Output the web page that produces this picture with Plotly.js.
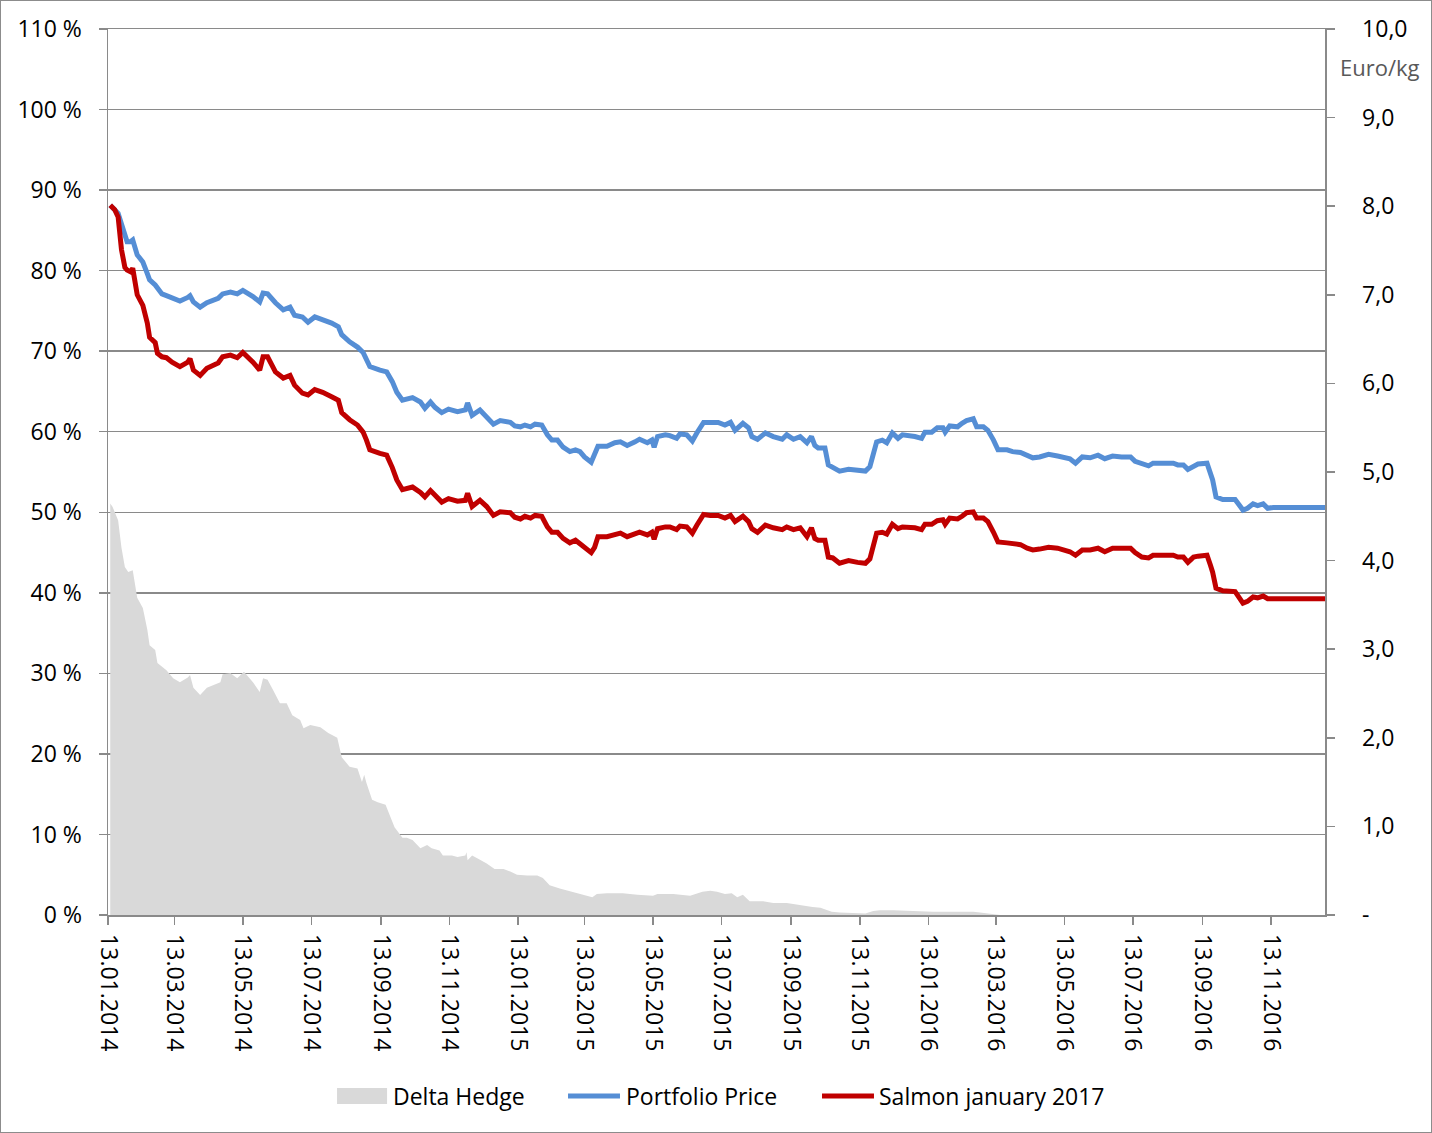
<!DOCTYPE html>
<html>
<head>
<meta charset="utf-8">
<script src="https://cdn.plot.ly/plotly-3.0.1.min.js"></script>
<style>
  html, body { margin: 0; padding: 0; background: #fff; }
  #wrap { position: relative; width: 1432px; height: 1133px; }
  #chart { width: 1432px; height: 1133px; }
  #frame { position: absolute; left: 0; top: 0; width: 1432px; height: 1133px; box-sizing: border-box; border: 1.5px solid #8c8c8c; pointer-events: none; }
</style>
</head>
<body>
<div id="wrap"><div id="chart"></div><div id="frame"></div></div>
<script>
// ---- DATA (days counted from 13.01.2014) ----
const lineDays = [2,6,9,12,15,17,20,22,26,31,35,37,42,44,48,52,57,64,71,73,76,82,88,98,102,109,115,120,129,135,138,142,149,156,162,166,173,178,184,191,199,205,208,215,222,227,230,233,242,248,253,257,262,271,278,282,287,291,297,303,311,318,320,324,331,337,343,349,358,362,367,371,376,380,386,391,395,400,405,411,416,420,424,430,433,436,444,451,456,462,469,473,480,484,486,489,496,500,506,509,515,520,524,530,536,543,549,554,558,565,570,573,578,585,592,600,604,610,616,622,626,629,632,638,641,645,651,659,667,674,678,684,689,693,698,703,707,714,718,724,727,733,738,743,745,749,756,760,764,770,773,779,783,788,792,800,805,812,818,823,829,837,845,852,856,861,867,874,881,887,894,902,910,914,920,926,930,939,948,952,957,961,966,970,978,981,983,986,992,1003,1006,1010,1014,1019,1023,1028,1032,1037,1083];

const portfolioPrice = [8.01,7.95,7.92,7.80,7.68,7.60,7.60,7.62,7.45,7.37,7.24,7.17,7.11,7.07,7.01,6.99,6.96,6.93,6.97,6.99,6.92,6.86,6.91,6.96,7.01,7.03,7.01,7.05,6.98,6.92,7.02,7.01,6.91,6.83,6.86,6.77,6.75,6.69,6.75,6.72,6.68,6.64,6.55,6.47,6.41,6.35,6.28,6.19,6.15,6.13,6.02,5.90,5.81,5.84,5.79,5.72,5.79,5.73,5.67,5.71,5.68,5.70,5.78,5.64,5.70,5.62,5.54,5.58,5.56,5.52,5.51,5.53,5.51,5.54,5.53,5.42,5.36,5.36,5.28,5.23,5.25,5.23,5.17,5.11,5.19,5.29,5.29,5.33,5.34,5.30,5.34,5.37,5.33,5.36,5.28,5.40,5.42,5.41,5.38,5.43,5.42,5.35,5.44,5.56,5.56,5.56,5.53,5.56,5.47,5.55,5.50,5.40,5.37,5.44,5.40,5.37,5.42,5.37,5.40,5.33,5.40,5.30,5.27,5.27,5.08,5.05,5.01,5.03,5.02,5.01,5.06,5.34,5.36,5.33,5.44,5.38,5.42,5.41,5.40,5.38,5.45,5.45,5.50,5.50,5.45,5.52,5.51,5.55,5.58,5.60,5.51,5.51,5.47,5.36,5.25,5.25,5.23,5.22,5.18,5.16,5.17,5.20,5.18,5.16,5.15,5.10,5.17,5.16,5.19,5.15,5.18,5.17,5.17,5.12,5.09,5.07,5.10,5.10,5.10,5.08,5.08,5.03,5.06,5.09,5.10,4.99,4.91,4.72,4.69,4.69,4.63,4.57,4.59,4.64,4.62,4.64,4.59,4.60,4.60];

const salmonJan2017 = [8.01,7.96,7.88,7.51,7.31,7.28,7.26,7.30,7.00,6.88,6.68,6.52,6.46,6.34,6.30,6.29,6.24,6.19,6.24,6.28,6.15,6.09,6.17,6.23,6.30,6.32,6.29,6.35,6.24,6.15,6.30,6.30,6.13,6.06,6.09,5.98,5.89,5.87,5.93,5.90,5.85,5.81,5.67,5.59,5.53,5.45,5.36,5.25,5.21,5.19,5.05,4.91,4.80,4.83,4.77,4.72,4.79,4.74,4.66,4.70,4.67,4.68,4.76,4.61,4.68,4.61,4.51,4.55,4.54,4.49,4.47,4.50,4.48,4.51,4.50,4.38,4.32,4.32,4.25,4.20,4.23,4.19,4.15,4.09,4.15,4.27,4.27,4.29,4.31,4.27,4.31,4.32,4.29,4.32,4.24,4.36,4.38,4.38,4.35,4.39,4.38,4.31,4.40,4.52,4.51,4.51,4.48,4.51,4.44,4.50,4.44,4.36,4.32,4.40,4.37,4.35,4.38,4.35,4.37,4.27,4.37,4.25,4.23,4.23,4.04,4.03,3.97,4.00,3.98,3.97,4.02,4.31,4.32,4.30,4.41,4.36,4.38,4.38,4.37,4.35,4.41,4.41,4.45,4.46,4.41,4.48,4.47,4.50,4.54,4.55,4.48,4.48,4.44,4.32,4.21,4.20,4.19,4.18,4.14,4.12,4.13,4.15,4.14,4.12,4.10,4.06,4.12,4.12,4.14,4.10,4.14,4.14,4.14,4.09,4.04,4.03,4.06,4.06,4.06,4.04,4.04,3.98,4.04,4.05,4.06,3.95,3.87,3.69,3.66,3.65,3.59,3.52,3.54,3.59,3.58,3.60,3.57,3.57,3.57];

const hedgeDays = [2,4,9,12,15,18,22,26,31,35,37,42,44,52,58,64,71,73,76,82,88,100,102,109,115,121,129,135,138,142,147,153,159,164,171,174,180,189,196,204,208,215,222,226,228,230,235,240,247,251,255,262,266,271,278,284,288,295,298,306,311,318,319,320,324,329,337,344,352,358,364,373,382,387,393,402,413,423,431,435,444,458,471,485,489,503,518,529,536,542,549,555,560,565,571,583,592,604,616,627,634,641,644,651,674,681,687,699,711,734,752,770,776,788,794,1083];

const deltaHedge = [51.1,50.7,49.0,45.6,43.2,42.6,42.8,39.4,38.1,35.4,33.5,32.9,31.3,30.4,29.4,28.9,29.5,29.8,28.2,27.3,28.2,28.9,29.9,30.0,29.4,30.2,28.9,27.7,29.4,29.2,27.9,26.3,26.3,24.8,24.2,23.2,23.6,23.3,22.6,22.0,19.6,18.4,18.2,16.5,17.4,16.4,14.3,14.0,13.7,12.4,10.9,9.6,9.6,9.3,8.3,8.7,8.3,8.0,7.4,7.4,7.2,7.4,7.8,6.8,7.4,7.0,6.4,5.7,5.7,5.4,5.0,4.9,4.9,4.6,3.7,3.3,2.9,2.5,2.2,2.6,2.7,2.7,2.5,2.4,2.6,2.6,2.4,2.9,3.0,2.9,2.6,2.7,2.2,2.5,1.7,1.7,1.5,1.5,1.2,1.0,0.9,0.6,0.4,0.3,0.2,0.5,0.6,0.6,0.5,0.4,0.4,0.4,0.3,0.1,0.0,0.0];

const tickDates = ['2014-01-13','2014-03-13','2014-05-13','2014-07-13','2014-09-13','2014-11-13','2015-01-13','2015-03-13','2015-05-13','2015-07-13','2015-09-13','2015-11-13','2016-01-13','2016-03-13','2016-05-13','2016-07-13','2016-09-13','2016-11-13'];
const tickLabels = ['13.01.2014','13.03.2014','13.05.2014','13.07.2014','13.09.2014','13.11.2014','13.01.2015','13.03.2015','13.05.2015','13.07.2015','13.09.2015','13.11.2015','13.01.2016','13.03.2016','13.05.2016','13.07.2016','13.09.2016','13.11.2016'];
const rightTickVals = [0,1,2,3,4,5,6,7,8,9,10];
const rightTickText = ['-','1,0','2,0','3,0','4,0','5,0','6,0','7,0','8,0','9,0','10,0'];
const seriesNames = ['Delta Hedge','Portfolio Price','Salmon january 2017'];
const unitLabel = 'Euro/kg';

// ---- helpers ----
const startMs = Date.UTC(2014, 0, 13);
const toDate = d => new Date(startMs + d * 86400000).toISOString().slice(0, 10);
const lineX = lineDays.map(toDate);
const hedgeX = hedgeDays.map(toDate);

const FONT = '"Open Sans", "Noto Sans", sans-serif';
const FS = 23;
const GRID = '#8a8a8a';
const COLORS = ['#d9d9d9', '#558ed5', '#c00000'];

const traces = [
  { x: hedgeX, y: deltaHedge, name: seriesNames[0], type: 'scatter', mode: 'lines',
    fill: 'tozeroy', fillcolor: COLORS[0], line: { width: 0, color: COLORS[0] }, yaxis: 'y' },
  { x: lineX, y: portfolioPrice, name: seriesNames[1], type: 'scatter', mode: 'lines',
    line: { color: COLORS[1], width: 5 }, yaxis: 'y2' },
  { x: lineX, y: salmonJan2017, name: seriesNames[2], type: 'scatter', mode: 'lines',
    line: { color: COLORS[2], width: 5 }, yaxis: 'y2' }
];

// custom legend (paper coordinates, below plot)
const legY = -0.2043;
const legendShapes = [
  { type: 'rect', xref: 'paper', yref: 'paper', x0: 0.1882, x1: 0.2293, y0: -0.2133, y1: -0.1953,
    fillcolor: COLORS[0], line: { width: 0 } },
  { type: 'line', xref: 'paper', yref: 'paper', x0: 0.3780, x1: 0.4207, y0: legY, y1: legY,
    line: { color: COLORS[1], width: 5 } },
  { type: 'line', xref: 'paper', yref: 'paper', x0: 0.5867, x1: 0.6294, y0: legY, y1: legY,
    line: { color: COLORS[2], width: 5 } }
];
const legendTextX = [0.2325, 0.4240, 0.6320];
const legendAnn = seriesNames.map((n, i) => ({
  text: n, xref: 'paper', yref: 'paper', x: legendTextX[i], y: legY,
  xanchor: 'left', yanchor: 'middle', showarrow: false,
  font: { family: FONT, size: FS, color: '#000' }
}));

const layout = {
  width: 1432, height: 1133,
  margin: { l: 108, r: 107, t: 29, b: 218 },
  paper_bgcolor: '#ffffff', plot_bgcolor: '#ffffff',
  font: { family: FONT, size: FS, color: '#000' },
  showlegend: false,
  xaxis: {
    type: 'date', range: [toDate(0), toDate(1083)],
    tickmode: 'array', tickvals: tickDates, ticktext: tickLabels, tickangle: 90,
    ticks: 'outside', ticklen: 8, tickwidth: 1.5, tickcolor: GRID,
    showline: true, mirror: true, linecolor: GRID, linewidth: 1.5, showgrid: false, zeroline: false,
    ticklabelstandoff: 5, tickfont: { family: FONT, size: FS, color: '#000' }, automargin: false
  },
  yaxis: {
    range: [0, 110], dtick: 10, tick0: 0, ticksuffix: ' %',
    ticks: 'outside', ticklen: 8, tickwidth: 1.5, tickcolor: GRID,
    showgrid: true, gridcolor: GRID, gridwidth: 1.5,
    showline: true, linecolor: GRID, linewidth: 1.5, zeroline: false,
    ticklabelstandoff: 12, tickfont: { family: FONT, size: FS, color: '#000' }, automargin: false
  },
  yaxis2: {
    range: [0, 10], overlaying: 'y', side: 'right',
    tickmode: 'array', tickvals: rightTickVals, ticktext: rightTickText,
    ticks: 'outside', ticklen: 8, tickwidth: 1.5, tickcolor: GRID,
    showgrid: false, zeroline: false,
    showline: true, linecolor: GRID, linewidth: 1.5,
    ticklabelstandoff: 23, tickfont: { family: FONT, size: FS, color: '#000' }, automargin: false
  },
  shapes: legendShapes,
  annotations: [
    { text: unitLabel, xref: 'paper', yref: 'paper', x: 1.0455, y: 0.957,
      xanchor: 'center', yanchor: 'middle', showarrow: false,
      font: { family: FONT, size: FS - 1, color: '#595959' } }
  ].concat(legendAnn)
};

Plotly.newPlot('chart', traces, layout, { displayModeBar: false, staticPlot: true });
</script>
</body>
</html>
